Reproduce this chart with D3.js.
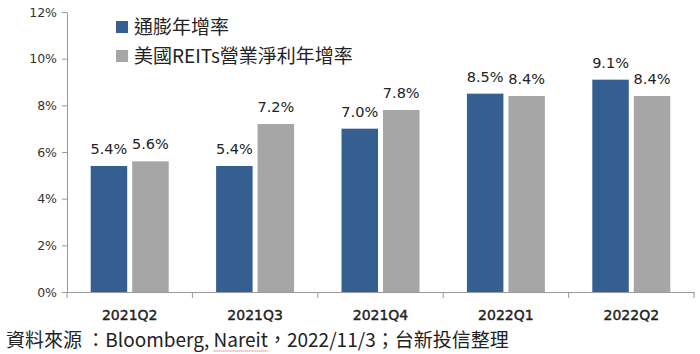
<!DOCTYPE html>
<html><head><meta charset="utf-8">
<script src="https://cdn.jsdelivr.net/npm/d3@7"></script>
<style>body{margin:0;background:#fff}svg{display:block}</style>
</head><body>
<svg id="c" width="700" height="354"></svg>
<script>
const categories = ["2021Q2","2021Q3","2021Q4","2022Q1","2022Q2"];
const seriesNames = ["通膨年增率","美國REITs營業淨利年增率"];
const inflation = [5.4,5.4,7.0,8.5,9.1];
const reitNoi = [5.6,7.2,7.8,8.4,8.4];
const yTicks = [0,2,4,6,8,10,12];
const colors = ["#365F91","#A6A6A6"];
const sourceParts = ["資料來源 ：Bloomberg, ", "Nareit", "，2022/11/3；台新投信整理"];

(function(){
const svg = d3.select("#c");
const mL = 67, mR = 694, mT = 12, mB = 292;
const font = "'DejaVu Sans', Verdana, sans-serif";
const cjk = "'Noto Sans CJK TC', 'Noto Sans', sans-serif";

const x = d3.scaleBand().domain(categories).range([mL, mR]).paddingInner(0).paddingOuter(0);
const y = d3.scaleLinear().domain([0,12]).range([mB, mT]);
const inner = d3.scaleBand().domain([0,1]).range([0, 78]).paddingInner(0.12);

// y axis
const ya = svg.append("g").attr("transform",`translate(${mL},0)`)
  .call(d3.axisLeft(y).tickValues(yTicks).tickFormat(d=>d+"%").tickSize(5).tickSizeOuter(0));
ya.select(".domain").attr("stroke","#999");
ya.selectAll(".tick line").attr("stroke","#999");
ya.selectAll(".tick text").attr("font-family",font).attr("font-size",12.5).attr("fill","#333").attr("x",-10);

// bars
const data = categories.map((c,i)=>({c, vals:[inflation[i], reitNoi[i]]}));
const g = svg.append("g");
data.forEach(d=>{
  const x0 = x(d.c) + (x.bandwidth()-78)/2;
  d.vals.forEach((v,k)=>{
    g.append("rect").attr("x",x0+inner(k)).attr("width",inner.bandwidth())
      .attr("y",y(v)).attr("height",y(0)-y(v)).attr("fill",colors[k]);
    g.append("text").attr("x",x0+inner(k)+inner.bandwidth()/2).attr("y",y(v)-12)
      .attr("text-anchor","middle").attr("font-family",font).attr("font-size",14.5).attr("fill","#222")
      .text(v.toFixed(1)+"%");
  });
});

// x axis
const xa = svg.append("g").attr("transform",`translate(0,${mB})`)
  .call(d3.axisBottom(x).tickSize(0).tickSizeOuter(0));
xa.select(".domain").attr("stroke","#999");
xa.selectAll(".tick text").attr("font-family",font).attr("font-size",14).attr("fill","#222")
  .attr("stroke","#222").attr("stroke-width",0.4).attr("y",28).attr("dy",0);
const bounds = [mL].concat(categories.map(c=>x(c)+x.bandwidth()));
xa.selectAll(".sep").data(bounds).enter().append("line")
  .attr("x1",d=>d).attr("x2",d=>d).attr("y1",0).attr("y2",6).attr("stroke","#999");

// legend
const lg = svg.append("g");
seriesNames.forEach((n,i)=>{
  const cy = 27 + i*29;
  lg.append("rect").attr("x",116).attr("y",cy-6).attr("width",12).attr("height",12).attr("fill",colors[i]);
  lg.append("text").attr("x",134).attr("y",cy+7).attr("font-family",cjk).attr("font-size",19).attr("fill","#222").text(n);
});

// source
const st = svg.append("text").attr("x",6).attr("y",347).attr("font-family",cjk).attr("font-size",19).attr("fill","#222");
const spans = sourceParts.map(p=>st.append("tspan").text(p));
const bb = spans[1].node().getBBox();
svg.append("line").attr("x1",bb.x).attr("x2",bb.x+bb.width).attr("y1",351).attr("y2",351)
  .attr("stroke","#E04040").attr("stroke-width",1).attr("stroke-dasharray","1,1");
})();
</script>
</body></html>
